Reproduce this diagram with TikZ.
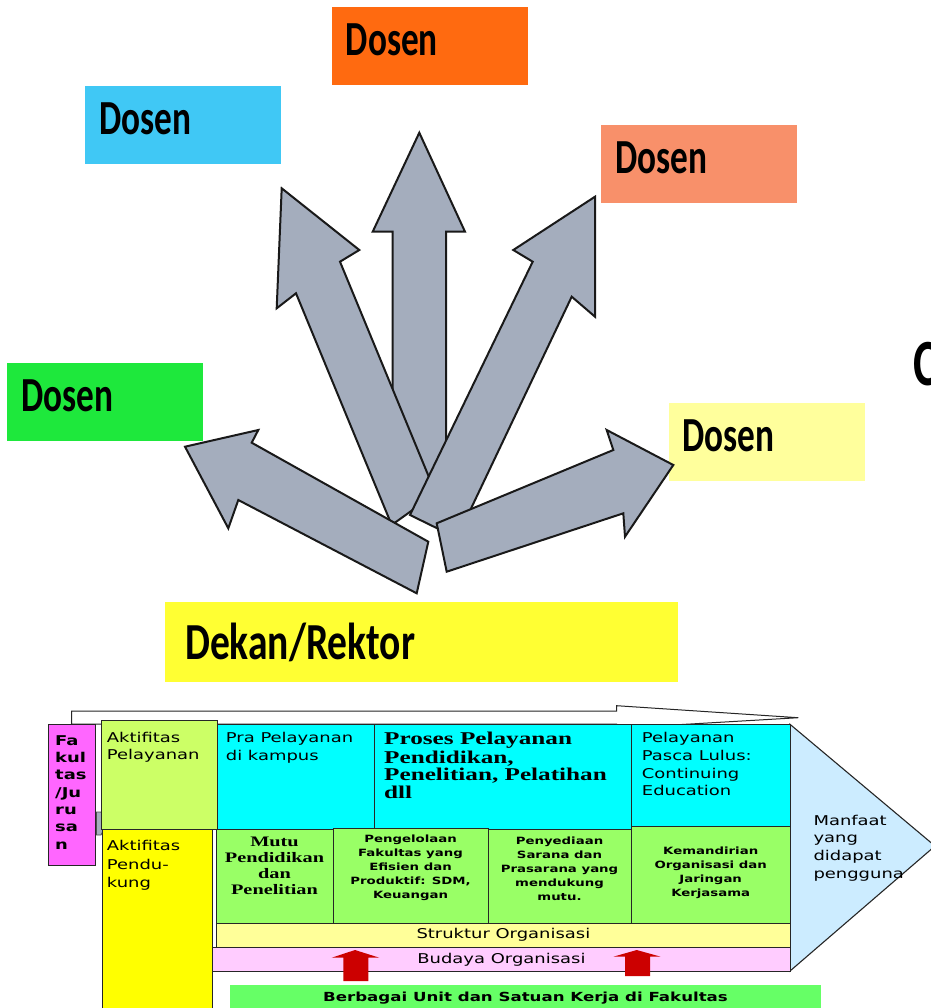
\documentclass[tikz,border=0pt]{standalone}
\usepackage{fontspec}
\usetikzlibrary{calc}
\newfontfamily\calfont[FakeStretch=0.72]{Carlito}
\newfontfamily\dekfont[FakeStretch=0.76]{Carlito}
\newfontfamily\vsans[FakeStretch=1.33]{DejaVu Sans}
\newfontfamily\tserif[FakeStretch=1.4]{Liberation Serif}
\definecolor{cOrange}{HTML}{FF6A10}
\definecolor{cBlue}{HTML}{40C8F5}
\definecolor{cSalmon}{HTML}{F8906A}
\definecolor{cGreen}{HTML}{1EE83C}
\definecolor{cLYel}{HTML}{FFFF9C}
\definecolor{cDek}{HTML}{FFFF33}
\definecolor{cArrow}{HTML}{A4ADBD}
\definecolor{cMag}{HTML}{FF66FF}
\definecolor{cLime}{HTML}{CCFF66}
\definecolor{cCyan}{HTML}{00FFFF}
\definecolor{cGrn}{HTML}{99FF66}
\definecolor{cYel}{HTML}{FFFF00}
\definecolor{cStr}{HTML}{FFFF99}
\definecolor{cPink}{HTML}{FFCCFF}
\definecolor{cSky}{HTML}{CCECFF}
\definecolor{cRed}{HTML}{CC0000}
\definecolor{cUnit}{HTML}{66FF66}
\begin{document}
\begin{tikzpicture}[x=1pt,y=-1pt,
  dosen/.style={anchor=north west, minimum width=196pt, minimum height=78pt,
    inner xsep=14pt, inner ysep=0pt, text width=168pt, align=left,
    text height=31pt, text depth=12pt,
    font=\calfont\bfseries\fontsize{49}{50}\selectfont},
  bigarrow/.style={fill=cArrow, draw=black!90, line width=2pt, line join=miter},
  pbox/.style={draw=black!85, line width=1.1pt, inner sep=0pt, anchor=north west},
  txt/.style={inner sep=0pt, anchor=north west, align=left},
  sansreg/.style={font=\vsans\fontsize{13.5}{17.8}\selectfont},
  grntxt/.style={inner sep=0pt, anchor=north, align=center,
    font=\vsans\bfseries\fontsize{10}{14}\selectfont},
  redarrow/.style={fill=cRed, draw=none}
]
\useasboundingbox (0,0) rectangle (930,1008);

% ---------- top part ----------
\node[dosen, fill=cOrange] (d1) at (331.7,7.3) {Dosen};
\node[dosen, fill=cBlue] (d2) at (85,86) {Dosen};
\node[dosen, fill=cSalmon] (d3) at (601,125) {Dosen};
\node[dosen, fill=cGreen] (d4) at (7,363) {Dosen};
\node[dosen, fill=cLYel] (d5) at (668.3,402.7) {Dosen};
\node[anchor=north west, fill=cDek, minimum width=513pt, minimum height=80pt,
  inner xsep=20pt, inner ysep=0pt, text width=473pt, align=left,
  text height=34pt, text depth=0pt,
  font=\dekfont\bfseries\fontsize{52}{53}\selectfont] (dek) at (165,602) {Dekan/Rektor};
\node[anchor=base west, inner sep=0pt,
  font=\calfont\bfseries\fontsize{66}{66}\selectfont] (cc) at (913,385) {C};

% arrows (vertical, upper left, upper right, lower left, lower right)
\filldraw[bigarrow] (419.3,132.7) -- (465,231.7) -- (446,231.7) -- (446,490)
  -- (392.7,490) -- (392.7,231.7) -- (372.7,231.7) -- cycle;
\filldraw[bigarrow] (281.7,188.3) -- (359.3,250) -- (340,261.7) -- (435.7,493.4)
  -- (391.7,525) -- (296,293.3) -- (276.7,308.3) -- cycle;
\filldraw[bigarrow] (595,196.7) -- (595,316.7) -- (571.7,296.7) -- (457,538)
  -- (410,515) -- (532.7,261.7) -- (513.3,250) -- cycle;
\filldraw[bigarrow] (185,446.7) -- (258.3,430) -- (251.7,442.7) -- (428.3,541.7)
  -- (416.7,593.3) -- (238.3,500) -- (228.3,528.3) -- cycle;
\filldraw[bigarrow] (673.3,465) -- (606.7,430) -- (613.3,450) -- (436.7,523.3)
  -- (446.7,571.7) -- (623.3,513.3) -- (625,536.7) -- cycle;

% ---------- bottom part ----------
\draw[fill=white, line width=1pt, draw=black!85] (71.7,711) -- (616.7,711) -- (616.7,705.7)
  -- (798.3,717.7) -- (616.7,728.3) -- (616.7,724) -- (71.7,724) -- cycle;
\draw[fill=cSky, line width=1.1pt, draw=black!85] (790,724.3) -- (935,846) -- (790,971) -- cycle;

\node[pbox, fill=cMag, minimum width=46.7pt, minimum height=140.7pt] (fak) at (48.3,724.3) {};
\draw[fill=cArrow, draw=black!70, line width=0.8pt] (96.5,812) -- (101,812) -- (106.5,823.5)
  -- (101,835) -- (96.5,835) -- cycle;
\node[pbox, fill=cYel, minimum width=110pt, minimum height=190pt] (pend) at (101.7,829) {};
\node[pbox, fill=cLime, minimum width=116.6pt, minimum height=109pt] (pel) at (100.7,720) {};

\node[pbox, fill=cCyan, minimum width=157pt, minimum height=105pt] (pra) at (217.3,724) {};
\node[pbox, fill=cCyan, minimum width=256.7pt, minimum height=105pt] (pro) at (374.3,724) {};
\node[pbox, fill=cCyan, minimum width=159pt, minimum height=102pt] (pas) at (631,724) {};

\node[pbox, fill=cGrn, minimum width=117.6pt, minimum height=93.4pt] (mutu) at (215.7,829.3) {};
\node[pbox, fill=cGrn, minimum width=154.4pt, minimum height=94.7pt] (peng) at (333.3,828) {};
\node[pbox, fill=cGrn, minimum width=143.6pt, minimum height=93.7pt] (peny) at (487.7,829) {};
\node[pbox, fill=cGrn, minimum width=158.7pt, minimum height=96.7pt] (kem) at (631.3,826) {};

\node[pbox, fill=cStr, minimum width=574.3pt, minimum height=24pt, sansreg] (str) at (215.7,922.7) {Struktur Organisasi};
\node[pbox, fill=cPink, minimum width=578.3pt, minimum height=24.6pt, sansreg] (bud) at (211.7,946.7) {Budaya Organisasi};

\fill[redarrow] (355,950) -- (379.3,957.7) -- (368.3,957.7) -- (368.3,981)
  -- (343.3,981) -- (343.3,957.7) -- (331.7,957.7) -- cycle;
\fill[redarrow] (636.7,950) -- (660.7,956.7) -- (650,956.7) -- (650,976)
  -- (625,976) -- (625,956.7) -- (613.3,956.7) -- cycle;

\node[anchor=north west, fill=cUnit, minimum width=591pt, minimum height=30pt, inner sep=0pt] (unit) at (230,985) {};
\node[anchor=base, inner sep=0pt, font=\vsans\bfseries\fontsize{12.5}{14}\selectfont] (tunit)
  at (525.5,1001.7) {Berbagai Unit dan Satuan Kerja di Fakultas};

% ---------- texts ----------
\node[txt, font=\vsans\bfseries\fontsize{13.5}{17.3}\selectfont] (tfak) at (55,732.9)
  {\strut Fa\\kul\\tas\\/Ju\\ru\\sa\\n};
\node[txt, sansreg] (tpel) at (106.7,729.5) {\strut Aktifitas\\Pelayanan};
\node[txt, font=\vsans\fontsize{13.5}{18.5}\selectfont] (tpend) at (106.7,837.8) {\strut Aktifitas\\Pendu-\\kung};
\node[txt, sansreg] (tpra) at (225.7,729.8) {\strut Pra Pelayanan\\di kampus};
\node[txt, font=\tserif\bfseries\fontsize{18}{17.8}\selectfont] (tpro) at (384,731.5)
  {\strut Proses Pelayanan\\Pendidikan,\\Penelitian, Pelatihan\\dll};
\node[txt, sansreg] (tpas) at (641.7,729.8) {\strut Pelayanan\\Pasca Lulus:\\Continuing\\Education};
\node[txt, font=\vsans\fontsize{13.5}{17.7}\selectfont] (tman) at (813.3,812.6)
  {\strut Manfaat\\yang\\didapat\\pengguna};
\node[txt, anchor=north, align=center, font=\tserif\bfseries\fontsize{14.5}{15.7}\selectfont] (tmutu)
  at (274.5,835.7) {\strut Mutu\\Pendidikan\\dan\\Penelitian};
\node[grntxt] (tpeng) at (410.5,832.9) {\strut Pengelolaan\\Fakultas yang\\Efisien dan\\Produktif: SDM,\\Keuangan};
\node[grntxt] (tpeny) at (559.5,834.2) {\strut Penyediaan\\Sarana dan\\Prasarana yang\\mendukung\\mutu.};
\node[grntxt] (tkem) at (710.7,844.2) {\strut Kemandirian\\Organisasi dan\\Jaringan\\Kerjasama};
\end{tikzpicture}
\end{document}
